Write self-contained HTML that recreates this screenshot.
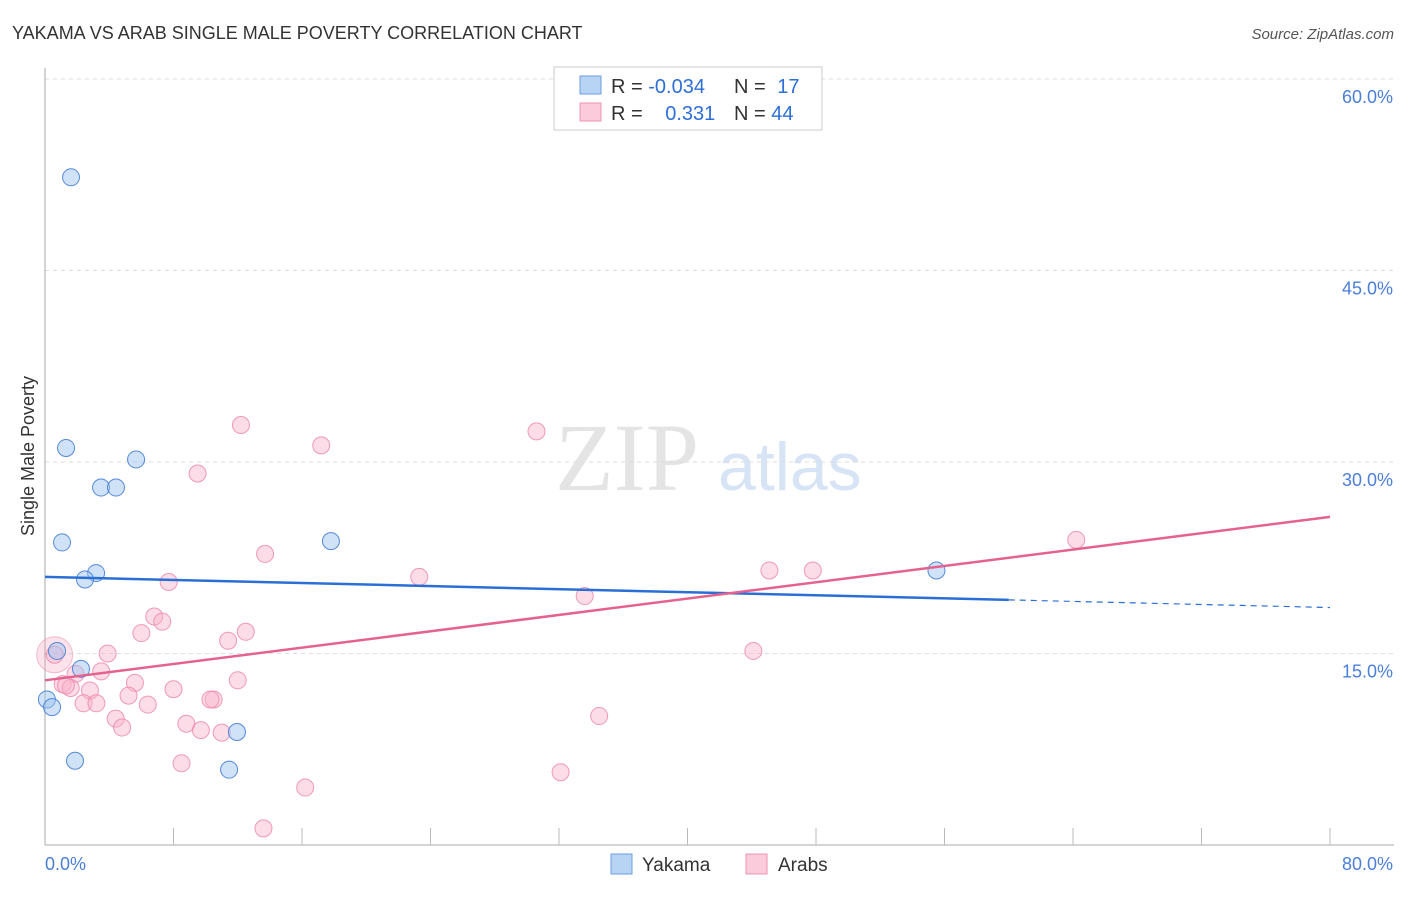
<!DOCTYPE html>
<html><head><meta charset="utf-8"><style>
body{margin:0;background:#fff;font-family:"Liberation Sans",sans-serif}
</style></head><body>
<svg id="c" width="1406" height="892" xmlns="http://www.w3.org/2000/svg" font-family="Liberation Sans, sans-serif">
<text x="12" y="39" font-size="18" fill="#333">YAKAMA VS ARAB SINGLE MALE POVERTY CORRELATION CHART</text>
<text x="1394" y="39" font-size="15" fill="#555" font-style="italic" text-anchor="end">Source: ZipAtlas.com</text>
<text x="34" y="456" font-size="18" fill="#333" text-anchor="middle" transform="rotate(-90 34 456)">Single Male Poverty</text>
<text x="555" y="490" font-size="96" fill="#e4e4e4" font-family="Liberation Serif, serif">ZIP</text>
<text x="718" y="490" font-size="68" fill="#d6e4f5">atlas</text>
<g id="grid"></g><g id="pts"></g><g id="lines"></g>
<g>
<rect x="554" y="67" width="268" height="63" fill="#fff" stroke="#ccc"/>
<rect x="580" y="76" width="21" height="18" fill="#b8d4f5" stroke="#6a9fe0"/>
<rect x="580" y="103" width="21" height="18" fill="#fbcadb" stroke="#ee94b3"/>
<text x="611" y="93" font-size="20" fill="#333">R = <tspan fill="#2d6fd8">-0.034</tspan></text>
<text x="734" y="93" font-size="20" fill="#333">N = <tspan fill="#2d6fd8" dx="6">17</tspan></text>
<text x="611" y="120" font-size="20" fill="#333">R = <tspan fill="#2d6fd8" dx="17">0.331</tspan></text>
<text x="734" y="120" font-size="20" fill="#333">N = <tspan fill="#2d6fd8">44</tspan></text>
</g>
<g>
<rect x="611" y="854" width="21" height="20" fill="#b8d4f5" stroke="#6a9fe0"/>
<text x="642" y="871" font-size="19" fill="#333">Yakama</text>
<rect x="746" y="854" width="21" height="20" fill="#fbcadb" stroke="#ee94b3"/>
<text x="778" y="871" font-size="19" fill="#333">Arabs</text>
</g>
</svg>
<script>
const yTicks=[15,30,45,60];
const xTickLabels=["0.0%","80.0%"];
const yakX=[1.62,1.31,5.67,3.49,4.42,1.06,17.8,3.18,2.49,55.5,0.75,2.24,0.12,0.44,1.87,11.95,11.46];
const yakY=[52.3,31.1,30.2,28.0,28.0,23.7,23.8,21.3,20.8,21.5,15.2,13.8,11.4,10.8,6.6,8.85,5.9];
const arbX=[12.2,17.2,30.6,9.5,64.2,13.7,23.3,45.1,47.8,7.7,33.6,6.8,7.3,6.0,12.5,11.4,3.9,44.1,0.6,1.9,3.5,5.6,12.0,1.1,1.6,2.8,5.2,8.0,10.5,6.4,2.4,3.2,10.3,34.5,4.4,8.8,4.8,9.7,11.0,8.5,32.1,16.2,13.6,1.3];
const arbY=[32.9,31.3,32.4,29.1,23.9,22.8,21.0,21.5,21.5,20.6,19.5,17.9,17.5,16.6,16.7,16.0,15.0,15.2,14.9,13.4,13.6,12.7,12.9,12.6,12.3,12.1,11.7,12.2,11.4,11.0,11.1,11.1,11.4,10.1,9.9,9.5,9.2,9.0,8.8,6.4,5.7,4.5,1.3,12.5];
const yakTrend=[21.0,19.2,18.6]; // at x=0, 60, 80
const arbTrend=[12.9,25.7]; // at x=0, 80
const NS="http://www.w3.org/2000/svg";
const X=v=>45+v/80*1285, Y=v=>845-v/60*766;
function mk(t,a,p){const e=document.createElementNS(NS,t);for(const k in a)e.setAttribute(k,a[k]);p.appendChild(e);return e;}
const g=document.getElementById('grid');
yTicks.forEach(t=>{
 const l=mk('line',{x1:45,x2:1394,y1:Y(t),y2:Y(t),stroke:'#ddd','stroke-dasharray':'4,4'},g);
 
 
 const tx=mk('text',{x:1393,y:Y(t)+24,'font-size':18,fill:'#4a7fd8','text-anchor':'end'},g);
 tx.textContent=t.toFixed(1)+'%';
 
 
});
const ax=mk('line',{x1:45,x2:45,y1:68,y2:845,stroke:'#aaa'},g);


const bx=mk('line',{x1:45,x2:1394,y1:845,y2:845,stroke:'#aaa'},g);


for(let i=1;i<=10;i++){const t=mk('line',{x1:X(i*8),x2:X(i*8),y1:828,y2:845,stroke:'#bbb'},g);
 
 }
xTickLabels.forEach((s,i)=>{const t=mk('text',{x:i?1393:45,y:870,'font-size':18,fill:'#4a7fd8','text-anchor':i?'end':'start'},g);t.textContent=s;
 
 });
const p=document.getElementById('pts');
const big=mk('circle',{cx:X(0.6),cy:Y(14.9),r:18,fill:'rgba(244,160,190,0.3)',stroke:'rgba(236,130,170,0.5)'},p);


arbX.forEach((x,i)=>{const c=mk('circle',{cx:X(x),cy:Y(arbY[i]),r:8.5,fill:'rgba(248,180,202,0.45)',stroke:'rgba(236,130,170,0.8)'},p);
 
 });
yakX.forEach((x,i)=>{const c=mk('circle',{cx:X(x),cy:Y(yakY[i]),r:8.5,fill:'rgba(160,198,240,0.5)',stroke:'rgba(60,120,215,0.85)'},p);
 
 });
const L=document.getElementById('lines');
const a=mk('line',{x1:X(0),y1:Y(yakTrend[0]),x2:X(60),y2:Y(yakTrend[1]),stroke:'#2a6fd6','stroke-width':2.5},L);


const b=mk('line',{x1:X(60),y1:Y(yakTrend[1]),x2:X(80),y2:Y(yakTrend[2]),stroke:'#2a6fd6','stroke-width':1.2,'stroke-dasharray':'6,5'},L);


const c=mk('line',{x1:X(0),y1:Y(arbTrend[0]),x2:X(80),y2:Y(arbTrend[1]),stroke:'#e5628f','stroke-width':2.5},L);


</script>
</body></html>
